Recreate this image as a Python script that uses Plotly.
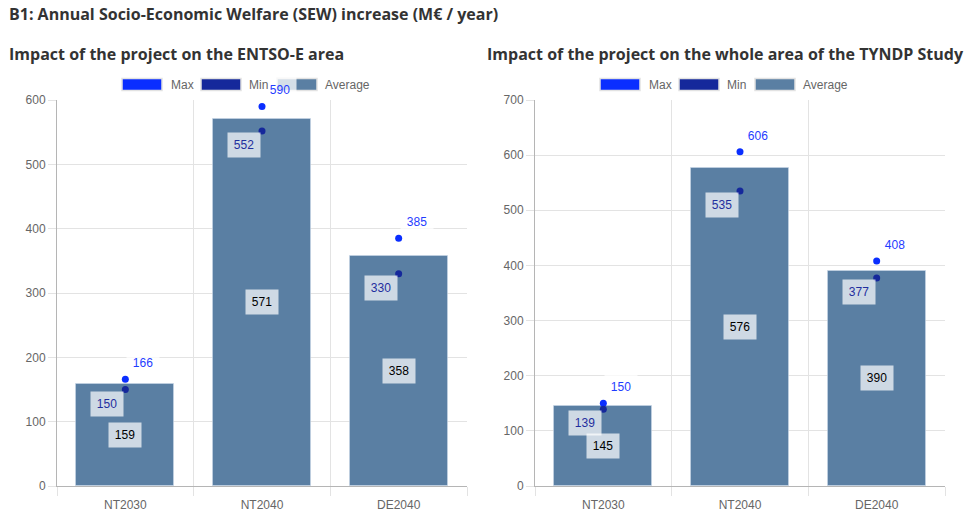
import plotly.graph_objects as go

W, H = 970, 525

categories = ["NT2030", "NT2040", "DE2040"]
entso_max = [166, 590, 385]
entso_min = [150, 552, 330]
entso_avg = [159, 571, 358]
tyndp_max = [150, 606, 408]
tyndp_min = [139, 535, 377]
tyndp_avg = [145, 576, 390]

main_title = "B1: Annual Socio-Economic Welfare (SEW) increase (M€ / year)"
sub_titles = ["Impact of the project on the ENTSO-E area",
              "Impact of the project on the whole area of the TYNDP Study"]
legend_names = ["Max", "Min", "Average"]

C_MAX = "#0a2eff"
C_MIN = "#15289b"
C_AVG = "#5a7fa3"
GRID = "#e3e3e3"
AXIS = "#b5b5b5"
TICKF = dict(family="Liberation Sans, Arial, sans-serif", size=12, color="#666666")


def px(x):
    return x / W


def py(y):
    return 1 - y / H


xs = list(range(len(categories)))
fig = go.Figure()

panels = [
    dict(mx=entso_max, mn=entso_min, av=entso_avg, xa="x", ya="y", x0=57, x1=467, ymax=600, title=sub_titles[0], tx=7, leg=122),
    dict(mx=tyndp_max, mn=tyndp_min, av=tyndp_avg, xa="x2", ya="y2", x0=535, x1=945, ymax=700, title=sub_titles[1], tx=485, leg=600),
]

annotations = []
shapes = []

for k, p in enumerate(panels):
    fig.add_trace(go.Bar(x=xs, y=p["av"], width=0.715, marker=dict(color=C_AVG, line=dict(width=1, color="rgba(200,215,230,0.6)")),
                         xaxis=p["xa"], yaxis=p["ya"], showlegend=False, hoverinfo="skip"))
    fig.add_trace(go.Scatter(x=xs, y=p["mx"], mode="markers", marker=dict(color=C_MAX, size=7),
                             xaxis=p["xa"], yaxis=p["ya"], showlegend=False))
    fig.add_trace(go.Scatter(x=xs, y=p["mn"], mode="markers", marker=dict(color=C_MIN, size=7),
                             xaxis=p["xa"], yaxis=p["ya"], showlegend=False))
    for i in xs:
        annotations.append(dict(x=i, y=p["mx"][i], xref=p["xa"], yref=p["ya"], text=str(p["mx"][i]), showarrow=False,
                                xshift=18, yshift=16, font=dict(family="Liberation Sans, Arial", size=12, color="#1f3cff"),
                                bgcolor="rgba(255,255,255,0.75)", width=30, height=22))
        annotations.append(dict(x=i, y=p["mn"][i], xref=p["xa"], yref=p["ya"], text=str(p["mn"][i]), showarrow=False,
                                xshift=-18, yshift=-14, font=dict(family="Liberation Sans, Arial", size=12, color="#1f2e9e"),
                                bgcolor="rgba(255,255,255,0.7)", width=30, height=22))
        annotations.append(dict(x=i, y=p["av"][i] / 2, xref=p["xa"], yref=p["ya"], text=str(p["av"][i]), showarrow=False,
                                font=dict(family="Liberation Sans, Arial", size=12, color="#000000"),
                                bgcolor="rgba(255,255,255,0.7)", width=30, height=22))
    # subtitle
    annotations.append(dict(x=px(p["tx"]), y=py(54), xref="paper", yref="paper", xanchor="left", yanchor="middle",
                            text=p["title"], showarrow=False,
                            font=dict(family="Open Sans, sans-serif", size=16, color="#333333", weight="bold")))
    # legend
    lx = p["leg"]
    offsets = [(0, 47), (79, 125), (155, 201)]
    colors = [C_MAX, C_MIN, C_AVG]
    for (bo, to), name, col in zip(offsets, legend_names, colors):
        shapes.append(dict(type="rect", xref="paper", yref="paper", x0=px(lx + bo), x1=px(lx + bo + 40),
                           y0=py(90.5), y1=py(78.5), fillcolor=col, line=dict(color="#e2e2e2", width=1.5)))
        annotations.append(dict(x=px(lx + to), y=py(84.5), xref="paper", yref="paper", xanchor="left", yanchor="middle",
                                text=name, showarrow=False, font=TICKF))

    xa_name = "xaxis" if k == 0 else "xaxis2"
    ya_name = "yaxis" if k == 0 else "yaxis2"
    fig.update_layout(**{
        xa_name: dict(domain=[px(p["x0"]), px(p["x1"])], range=[-0.5, len(categories) - 0.5], anchor=p["ya"],
                      tickmode="array", tickvals=xs, ticktext=categories, ticks="outside", ticklen=8,
                      tickcolor="rgba(0,0,0,0)", showgrid=False, zeroline=False, showline=True, linecolor=AXIS,
                      linewidth=1, tickfont=TICKF, fixedrange=True, automargin=False,
                      minor=dict(tickmode="array", tickvals=[-0.5, 0.5, 1.5, 2.5], showgrid=True, gridcolor=GRID,
                                 gridwidth=1, ticks="outside", ticklen=9, tickcolor=GRID)),
        ya_name: dict(domain=[py(486), py(100)], range=[0, p["ymax"]], anchor=p["xa"], dtick=100,
                      ticks="outside", ticklen=8, tickcolor=GRID, showgrid=True, gridcolor=GRID, zeroline=False,
                      showline=True, linecolor=AXIS, linewidth=1, tickfont=TICKF, fixedrange=True, automargin=False),
    })

annotations.append(dict(x=px(7), y=py(14), xref="paper", yref="paper", xanchor="left", yanchor="middle",
                        text=main_title, showarrow=False,
                        font=dict(family="Open Sans, sans-serif", size=16, color="#333333", weight="bold")))

fig.update_layout(width=W, height=H, margin=dict(l=0, r=0, t=0, b=0, autoexpand=False), plot_bgcolor="white", paper_bgcolor="white",
                  annotations=annotations, shapes=shapes, showlegend=False, bargap=0)

fig.write_html("out.html")
